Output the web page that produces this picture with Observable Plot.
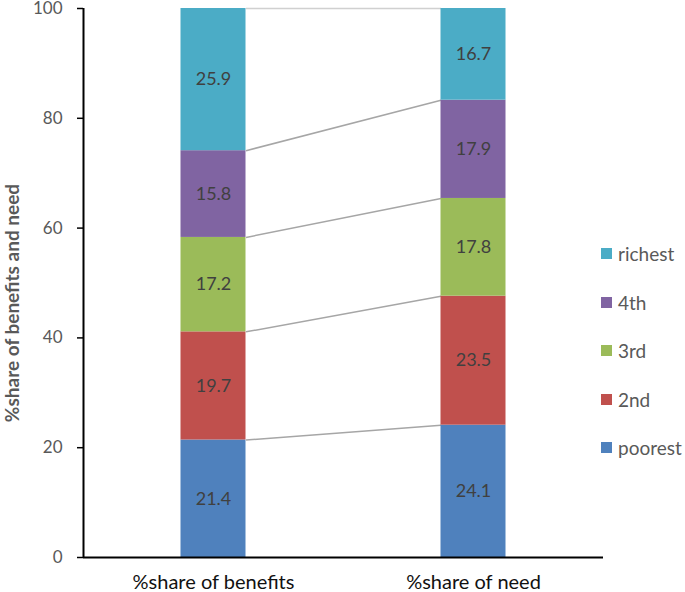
<!DOCTYPE html>
<html>
<head>
<meta charset="utf-8">
<script src="https://cdn.jsdelivr.net/npm/d3@7"></script>
<script src="https://cdn.jsdelivr.net/npm/@observablehq/plot@0.6"></script>
<style>
  html, body { margin: 0; padding: 0; background: #fff; }
  #wrap { position: relative; width: 685px; height: 592px; font-family: Lato, "Open Sans", sans-serif; overflow: hidden; }
  #wrap svg { overflow: visible; }
  #legend { position: absolute; left: 601px; top: 0; }
  .item { position: absolute; left: 0; white-space: nowrap; display: flex; align-items: center; font-size: 19px; color: #595959; }
  .sw { width: 11px; height: 11px; margin-right: 6px; }
  #ytitle { position: absolute; left: 11px; top: 303px; transform: translate(-50%, -50%) rotate(-90deg);
            white-space: nowrap; font-size: 19px; font-weight: bold; color: #595959; }
</style>
</head>
<body>
<div id="wrap"><div id="legend"></div><div id="ytitle"></div></div>
<script>
const categories = ["%share of benefits", "%share of need"];
const groups = ["poorest", "2nd", "3rd", "4th", "richest"];
const benefits = [21.4, 19.7, 17.2, 15.8, 25.9];
const need = [24.1, 23.5, 17.8, 17.9, 16.7];
const colors = ["#4F81BD", "#C0504D", "#9BBB59", "#8064A2", "#4BACC6"];
const yTicks = [0, 20, 40, 60, 80, 100];
const yTitle = "%share of benefits and need";

const series = [benefits, need];
const table = [];
const tops = series.map(() => []);
series.forEach((vals, i) => {
  let acc = 0;
  vals.forEach((v, j) => {
    const y1 = acc; acc += v;
    table.push({i, group: groups[j], value: v, y1, y2: acc, mid: (y1 + acc) / 2});
    tops[i].push(acc);
  });
});
const links = groups.map((g, j) => ({a: tops[0][j], b: tops[1][j], top: j === groups.length - 1}));
const half = 0.125;

const chart = Plot.plot({
  width: 685,
  height: 592,
  marginLeft: 83,
  marginRight: 82,
  marginTop: 8,
  marginBottom: 35,
  style: {fontFamily: "Lato, 'Open Sans', sans-serif", background: "#fff", overflow: "visible"},
  x: {type: "linear", domain: [-0.5, 1.5], axis: null},
  y: {domain: [0, 100], axis: null},
  color: {domain: groups, range: colors},
  marks: [
    Plot.link(links, {x1: () => 0 + half, x2: () => 1 - half, y1: "a", y2: "b",
      stroke: d => d.top ? "#d0d0d0" : "#a6a6a6", strokeWidth: 1.5}),
    Plot.rectY(table, {x1: d => d.i - half, x2: d => d.i + half, y1: "y1", y2: "y2", fill: "group"}),
    Plot.text(table, {x: "i", y: "mid", text: d => d.value.toFixed(1), fill: "#404040", fontSize: 18}),
    Plot.axisY({ticks: yTicks, tickSize: 6, tickPadding: 15, fontSize: 17, fill: "#595959", stroke: "#000", strokeWidth: 1.5, label: null}),
    Plot.ruleX([-0.5], {stroke: "#000", strokeWidth: 2}),
    Plot.ruleY([0], {stroke: "#000", strokeWidth: 2}),
    Plot.text(categories.map((c, i) => i), {x: d => d, text: i => categories[i], frameAnchor: "bottom", dy: 25,
      lineAnchor: "middle", fontSize: 20, fill: "#111"})
  ]
});
document.getElementById("wrap").prepend(chart);

document.getElementById("ytitle").textContent = yTitle;

const legend = document.getElementById("legend");
const legendY = [253, 302, 350, 399, 447];
groups.slice().reverse().forEach((g, k) => {
  const idx = groups.indexOf(g);
  const el = document.createElement("div");
  el.className = "item";
  el.style.top = (legendY[k] - 12) + "px";
  el.style.height = "24px";
  el.innerHTML = `<span class="sw" style="background:${colors[idx]}"></span><span>${g}</span>`;
  legend.appendChild(el);
});
</script>
</body>
</html>
